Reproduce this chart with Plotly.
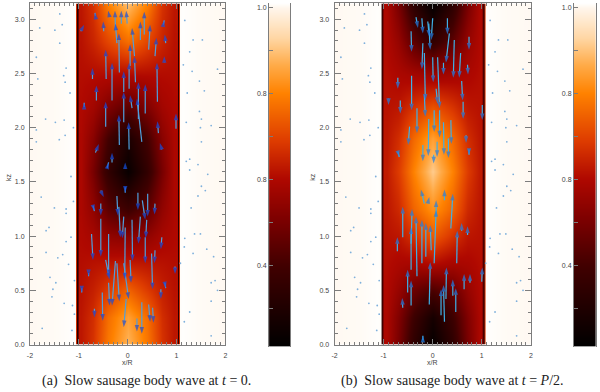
import plotly.graph_objects as go

W, H = 600, 392

x_grid = [-2.0, -1.5, -1.12, -1.07, -1.04, -1.0, -0.95, -0.7, -0.4, 0.0, 0.4, 0.7, 0.95, 1.0, 1.04, 1.07, 1.12, 1.5, 2.0]
z_grid = [0.0, 0.25, 0.5, 0.75, 1.0, 1.25, 1.6, 1.9, 2.2, 2.5, 2.8, 3.146]

# half-profile: tube wall, then toward the axis
center_a = [
    [.52, .58, .72, .84], [.52, .57, .70, .80], [.51, .54, .60, .68], [.50, .51, .52, .53],
    [.49, .47, .42, .40], [.48, .42, .30, .22], [.48, .36, .18, .03], [.48, .40, .24, .10],
    [.49, .46, .38, .30], [.50, .50, .50, .50], [.51, .55, .62, .70], [.52, .58, .74, .86],
]
center_b = [
    [.48, .36, .17, .02], [.48, .38, .22, .08], [.49, .43, .33, .26], [.50, .48, .47, .50],
    [.51, .52, .58, .66], [.52, .56, .68, .77], [.53, .60, .74, .88], [.52, .57, .69, .80],
    [.51, .52, .58, .64], [.50, .48, .46, .44], [.49, .43, .30, .18], [.48, .36, .16, .01],
]
outer_levels = [.993, .995, 1.0, .998, .14]
colorbar_levels = [0, .1, .2, .3, .4, .5, .6, .7, .8, .9, 1.0]
colorbar_ticks = [.988, .863, .738, .612, .487, .362, .236, .111]
colorbar_labels = ["1.0", "", "0.8", "", "0.8", "", "0.4", ""]

arrows_a = [
    (-.45,2.01,-.45,2.24),(-.17,1.84,-.18,2.12),(.03,1.80,.02,2.05),(.29,1.87,.19,2.27),(.36,2.13,.36,2.40),
    (.22,2.08,.22,2.42),(.09,2.18,.05,2.30),(-.08,2.05,-.08,2.33),(-.64,2.25,-.64,2.39),(-.72,2.45,-.72,2.55),
    (-.32,2.25,-.32,2.60),(-.44,2.45,-.45,2.72),(-.17,2.51,-.18,2.87),(-.08,2.33,-.08,2.52),(.03,2.36,.03,2.60),
    (.16,2.42,.14,2.66),(.05,2.57,.05,2.77),(.14,2.66,.09,2.92),(.26,2.81,.26,2.98),(.34,2.86,.34,3.07),
    (.43,2.72,.46,2.95),(.56,2.66,.59,2.83),(.61,2.24,.60,2.60),(.63,1.95,.61,2.06),(.75,2.60,.75,2.66),
    (.78,2.78,.76,2.86),(-.25,2.90,-.26,3.08),(-.13,2.96,-.13,3.08),(-.01,2.96,-.03,3.08),(-.22,2.78,-.25,2.96),
    (-.49,2.89,-.50,2.98),(-.37,3.02,-.40,3.08),(-.66,3.03,-.67,3.06),(.73,2.95,.75,2.99),(-.96,2.89,-.89,2.95),
    (.99,1.99,.99,2.13),(-.89,2.19,-.89,2.23),(-.66,1.77,-.59,1.85),(-.32,1.68,-.32,1.77),(-.42,1.63,-.39,1.68),
    (-.05,1.62,-.05,1.68),(.70,1.80,.66,1.86),
    (-.05,1.45,-.05,1.40),(-.55,1.42,-.49,1.36),(-.22,1.37,-.20,1.19),(.21,1.40,.21,1.24),(.41,1.39,.41,1.18),
    (.30,1.33,.36,1.15),(-.55,1.30,-.55,1.19),(-.71,1.28,-.68,1.23),(.56,1.30,.55,1.20),(-.18,1.27,-.15,.99),
    (-.08,1.18,-.11,.98),(.26,1.18,.22,.93),(.39,1.15,.37,.98),(-.55,1.16,-.55,.81),(-.74,1.02,-.71,.78),
    (-.39,1.02,-.39,.63),(-.05,1.08,-.06,.60),(.09,1.15,.10,.77),(.36,.99,.36,.75),(.70,.99,.68,.88),
    (.56,.87,.55,.75),(.49,.84,.51,.51),(-.25,.77,-.32,.36),(-.22,.75,-.17,.40),(.05,.78,.07,.57),
    (-.08,.75,.02,.42),(-.45,.78,-.37,.60),(-.39,.57,-.37,.36),(-.52,.48,-.51,.22),(-.68,.33,-.68,.25),
    (-.03,.42,-.08,.16),(.29,.39,.29,.10),(.43,.37,.46,.21),(.51,.34,.53,.20),(.19,.24,.19,.12),
    (.97,.72,.97,.65),(.68,.51,.68,.42),(.76,.57,.78,.52),(-.94,.52,-.94,.48),(-.80,.66,-.80,.63),
]
arrows_b = [
    (-.34,3.02,-.30,2.92),(-.22,3.01,-.20,2.87),(-.10,2.98,-.07,2.84),(0,3.01,-.03,2.81),(.30,3.01,.30,2.86),
    (-.44,2.89,-.43,2.70),(-.08,2.96,-.05,2.72),(-.20,2.78,-.22,2.54),(.34,2.87,.27,2.60),(.44,2.81,.42,2.46),
    (.74,2.84,.74,2.72),(.57,2.69,.54,2.46),(.71,2.58,.72,2.49),(-.17,2.69,-.15,2.25),(0,2.65,.01,2.42),
    (.22,2.60,.22,2.49),(-.71,2.46,-.71,2.36),(-.43,2.48,-.43,2.16),(-.17,2.30,-.15,2.10),(.10,2.65,.14,2.18),
    (.07,2.36,.10,2.22),(.59,2.43,.61,2.25),(.62,2.24,.62,2.08),(-.90,2.27,-.90,2.21),(-.66,2.25,-.66,2.13),
    (-.32,2.18,-.32,1.95),(-.47,2.01,-.50,1.84),(.03,2.16,.03,1.96),(-.08,2.08,-.09,1.74),(.14,2.16,.14,1.91),
    (.22,2.05,.23,1.75),(.37,2.07,.38,1.85),(.68,1.93,.68,1.86),(.32,1.90,.32,1.72),(-.20,1.84,-.20,1.69),
    (.09,1.87,.09,1.73),(.02,1.75,.02,1.67),(1.01,2.21,1.01,2.07),(.74,1.80,.74,1.75),(-.71,1.78,-.68,1.73),
    (-.17,1.30,-.24,1.43),(-.10,1.30,-.07,1.36),(.07,1.18,.07,1.33),(.24,1.33,.24,1.43),(.37,1.07,.41,1.39),
    (-.61,.99,-.61,1.27),(-.44,.93,-.42,1.25),(-.32,.63,-.34,1.18),(-.22,.75,-.22,1.15),(-.14,.81,-.14,1.12),
    (-.03,.87,-.05,1.10),(.03,.75,.07,1.24),(.49,.75,.50,1.05),(.59,1.05,.59,1.12),(.71,1.01,.71,1.09),
    (-.72,.86,-.72,.99),(-.44,.69,-.44,1.08),(-.07,.37,-.05,.76),(-.51,.48,-.51,.69),(.27,.42,.28,.71),
    (.64,.51,.64,.65),(.76,.57,.76,.65),(-.44,.36,-.44,.59),(.41,.45,.41,.60),(.47,.30,.47,.52),
    (-.61,.34,-.62,.43),(.24,.21,.22,.55),(.17,.27,.17,.51),(1.00,.58,1.01,.71),(-.20,.04,-.20,.08),
]
specks_x = [
    -1.39,-1.34,-1.49,-1.80,-1.39,-1.87,-1.84,-1.31,-1.28,-1.26,-1.18,-1.68,-1.48,-1.30,-1.11,-1.87,-1.28,-1.40,-1.87,-1.16,
    1.17,1.34,1.53,1.27,1.14,1.32,1.47,1.57,1.22,1.84,1.47,1.51,1.20,1.49,1.71,1.51,1.20,1.27,1.44,1.27,1.64,1.51,
    -1.77,-1.26,-1.26,-1.50,-1.11,-1.61,-1.67,-1.16,-1.26,-1.67,-1.43,-1.33,-1.21,-1.59,-1.09,-1.47,-1.53,-1.55,-1.30,-1.13,-1.09,-1.75,-1.14,
    1.44,1.59,1.30,1.17,1.16,1.37,1.49,1.62,1.34,1.76,1.08,1.79,1.71,1.84,1.71,1.27,1.16,1.71,
]
specks_z = [
    3.05,2.95,2.90,2.92,2.78,2.65,2.45,2.48,2.42,2.55,2.32,2.08,2.05,2.07,2.00,1.98,1.93,1.89,1.87,1.55,
    2.99,2.81,2.81,2.70,2.58,2.52,2.43,2.34,2.32,2.54,2.15,2.08,2.05,2.00,2.02,1.87,1.69,1.71,1.66,1.61,1.57,1.46,
    1.36,1.25,1.21,1.26,1.32,1.08,1.05,.99,.95,.85,.80,.83,.74,.62,.59,.57,.51,.44,.38,.36,.28,.15,.13,
    1.37,1.42,1.26,.98,.90,1.02,1.02,.88,.84,.81,.75,.59,.57,.50,.40,.30,.21,.08,
]

colorscale = [
    [0, "rgb(0,0,0)"], [.236, "rgb(65,0,0)"], [.36, "rgb(120,0,0)"], [.49, "rgb(175,8,0)"], [.6, "rgb(222,60,0)"],
    [.74, "rgb(255,130,0)"], [.82, "rgb(255,170,70)"], [.9, "rgb(255,215,165)"], [.99, "rgb(255,247,238)"], [1, "rgb(255,254,252)"],
]

def px_x(a, b):
    return [a / W, b / W]

def px_y(top, bottom):
    return [(H - bottom) / H, (H - top) / H]

def full_rows(center):
    rows = []
    for row in center:
        wall = [row[0]]
        rows.append(outer_levels + wall + row + row[-2::-1] + wall + outer_levels[::-1])
    return rows

GRAY = "#7d7d7d"
TXT = "#444444"
FONT = dict(family="Liberation Sans", size=7, color=TXT)
minor = dict(dtick=0.1, ticks="inside", ticklen=3, tickcolor=GRAY, tickwidth=1)

fig = go.Figure()
annotations = []

for i, (center, arrows, dom, cdom) in enumerate([
    (center_a, arrows_a, (27.2, 224.2), (268.3, 289.8)),
    (center_b, arrows_b, (334.3, 532.3), (575.8, 597.6)),
]):
    ax = "" if i == 0 else "3"
    cx = "2" if i == 0 else "4"
    fig.add_trace(go.Heatmap(x=x_grid, y=z_grid, z=full_rows(center), zmin=0, zmax=1, zsmooth="best",
                             colorscale=colorscale, showscale=False, xaxis=f"x{ax}", yaxis=f"y{ax}", hoverinfo="skip"))
    fig.add_trace(go.Scatter(x=specks_x, y=specks_z, mode="markers", showlegend=False, xaxis=f"x{ax}", yaxis=f"y{ax}",
                             marker=dict(size=1.8, color="#7fb0dc", line_width=0), hoverinfo="skip"))
    fig.add_trace(go.Heatmap(x=[0, 1], y=colorbar_levels, z=[[v, v] for v in colorbar_levels], zmin=0, zmax=1, zsmooth="best",
                             colorscale=colorscale, showscale=False, xaxis=f"x{cx}", yaxis=f"y{cx}", hoverinfo="skip"))
    shaft_x, shaft_z, sizes = [], [], []
    for x0, z0, x1, z1 in arrows:
        shaft_x += [x0, x1, None]
        shaft_z += [z0, z1, None]
        sizes += [0, 7, 0]
    shaft_color = "#4f9fdc" if i == 0 else "#3fb0e6"
    head_color = "#1450e0" if i == 0 else "#1e80e8"
    fig.add_trace(go.Scatter(x=shaft_x, y=shaft_z, mode="lines+markers", showlegend=False, xaxis=f"x{ax}", yaxis=f"y{ax}",
                             connectgaps=False, line=dict(color=shaft_color, width=1.2), hoverinfo="skip",
                             marker=dict(symbol="arrow", angleref="previous", size=sizes, color=head_color, line_width=0)))
    common = dict(showline=True, linecolor=GRAY, linewidth=1, mirror="ticks", ticks="inside", tickcolor=GRAY,
                  ticklen=6, tickwidth=1, showgrid=False, zeroline=False, tickfont=FONT, layer="above traces")
    fig.update_layout({
        f"xaxis{ax}": dict(common, domain=px_x(*dom), range=[-2, 2], tickvals=[-2, -1, 0, 1, 2], ticktext=["-2", "-1", "0", "1", "2"],
                           anchor=f"y{ax}", minor=minor, ticklabelstandoff=4),
        f"yaxis{ax}": dict(common, domain=px_y(3.5, 347.2), range=[0, 3.146], tickvals=[0, .5, 1, 1.5, 2, 2.5, 3],
                           ticktext=["0.0", "0.5", "1.0", "1.5", "2.0", "2.5", "3.0"], anchor=f"x{ax}", minor=minor, ticklabelstandoff=3),
        f"xaxis{cx}": dict(domain=px_x(*cdom), range=[0, 1], visible=False, anchor=f"y{cx}"),
        f"yaxis{cx}": dict(domain=px_y(3.5, 349.5), range=[0, 1], anchor=f"x{cx}", showline=True, linecolor=GRAY, linewidth=1,
                           mirror=True, ticks="inside", tickcolor=GRAY, ticklen=4, showgrid=False, zeroline=False,
                           tickvals=colorbar_ticks, ticktext=colorbar_labels, tickfont=FONT, layer="above traces"),
    })
    annotations.append(dict(x=(dom[0] + dom[1]) / 2 / W, y=(H - 365) / H, xref="paper", yref="paper", xanchor="center", yanchor="middle",
                            showarrow=False, font=FONT, text="x/R"))
    annotations.append(dict(x=(dom[0] - 21.7) / W, y=(H - 178) / H, xref="paper", yref="paper", xanchor="center", yanchor="middle",
                            showarrow=False, font=FONT, text="kz", textangle=-90))

CAP = dict(family="Liberation Serif", size=14, color="#222222")
annotations.append(dict(x=145 / W, y=(H - 384) / H, xref="paper", yref="paper", xanchor="center", yanchor="middle",
                        showarrow=False, font=CAP, text="(a)  Slow sausage body wave at <i>t</i> = 0."))
annotations.append(dict(x=453 / W, y=(H - 384) / H, xref="paper", yref="paper", xanchor="center", yanchor="middle",
                        showarrow=False, font=CAP, text="(b)  Slow sausage body wave at <i>t</i> = <i>P</i>/2."))

fig.update_layout(width=W, height=H, margin=dict(l=0, r=0, t=0, b=0), paper_bgcolor="white", plot_bgcolor="white",
                  showlegend=False, annotations=annotations)
fig.write_html("out.html", config=dict(displayModeBar=False), post_script="document.body.style.margin='0';")
